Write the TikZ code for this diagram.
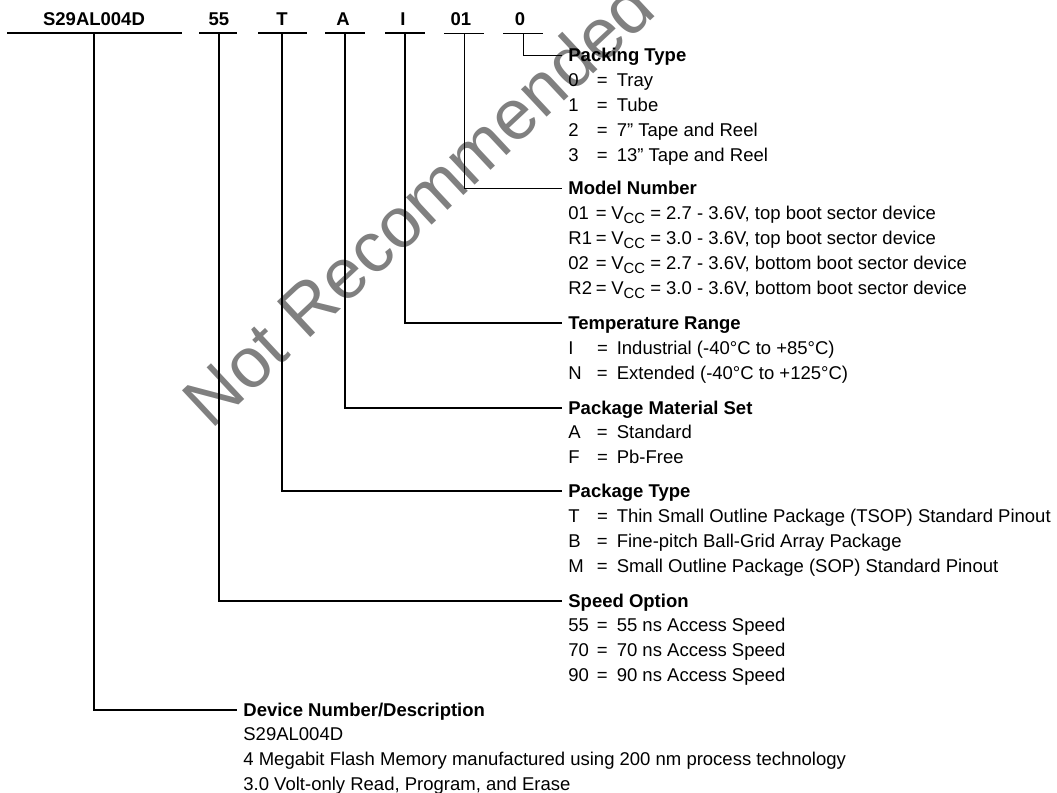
\documentclass[tikz,border=0pt]{standalone}
\usepackage{fontspec}
\setmainfont{Liberation Sans}
\usepackage{xcolor}
\definecolor{wmgray}{RGB}{128,128,128}
% one option line: code, "=" and its meaning
\newcommand{\optrow}[2]{\makebox[14.3pt][l]{#1}=\hspace{4.5pt}#2}
\newcommand{\vccrow}[2]{\makebox[13.8pt][l]{#1}=\hspace{2.3pt}V\raisebox{-2.2pt}{\fontsize{7.4}{8}\selectfont CC} = #2}

\begin{document}
\begin{tikzpicture}[x=0.5pt, y=-0.5pt, font=\fontsize{9.25}{11}\selectfont,
    part/.style={font=\fontsize{9.25}{11}\selectfont\bfseries, anchor=base, inner sep=0pt},
    head/.style={font=\fontsize{9.25}{11}\selectfont\bfseries, anchor=west, inner xsep=3pt, inner ysep=0pt, text height=6.6pt, text depth=0pt},
    entry/.style={anchor=base west, inner sep=0pt},
    wire/.style={line width=1pt},
    fine/.style={line width=0.5pt}]
  \useasboundingbox (0,0) rectangle (1057,793);
  % watermark
  \node[rotate=43, text=wmgray, font=\fontsize{35.5}{40}\selectfont] (wm) at (418,203) {Not Recommended};
  % part number fields
  \node[part] (f-dev) at (94,25) {S29AL004D};
  \node[part] (f-spd) at (219,25) {55};
  \node[part] (f-pkg) at (282,25) {T};
  \node[part] (f-mat) at (343,25) {A};
  \node[part] (f-tmp) at (403,25) {I};
  \node[part] (f-mdl) at (461,25) {01};
  \node[part] (f-pck) at (520,25) {0};
  \draw[wire] (7,33) -- (182,33);
  \draw[wire] (199,33) -- (237,33);
  \draw[wire] (258,33) -- (307,33);
  \draw[wire] (325,33) -- (365,33);
  \draw[wire] (385,33) -- (425,33);
  \draw[fine] (444,33) -- (484,33);
  \draw[fine] (503,33) -- (543,33);
  \coordinate (u-dev) at (94,33);
  \coordinate (u-spd) at (219,33);
  \coordinate (u-pkg) at (282,33);
  \coordinate (u-mat) at (345,33);
  \coordinate (u-tmp) at (405,33);
  \coordinate (u-mdl) at (464,33);
  \coordinate (u-pck) at (523,33);

  % Packing Type
  \node[head] (h-pck) at (562,55) {Packing Type};
  \node[entry] (pck0) at (568,86) {\optrow{0}{Tray}};
  \node[entry] (pck1) at (568,111) {\optrow{1}{Tube}};
  \node[entry] (pck2) at (568,136) {\optrow{2}{7'' Tape and Reel}};
  \node[entry] (pck3) at (568,161) {\optrow{3}{13'' Tape and Reel}};
  % Model Number
  \node[head] (h-mdl) at (562,188) {Model Number};
  \node[entry] (mdl1) at (568,219) {\vccrow{01}{2.7 - 3.6V, top boot sector device}};
  \node[entry] (mdl2) at (568,244) {\vccrow{R1}{3.0 - 3.6V, top boot sector device}};
  \node[entry] (mdl3) at (568,269) {\vccrow{02}{2.7 - 3.6V, bottom boot sector device}};
  \node[entry] (mdl4) at (568,294) {\vccrow{R2}{3.0 - 3.6V, bottom boot sector device}};
  % Temperature Range
  \node[head] (h-tmp) at (562,323) {Temperature Range};
  \node[entry] (tmp1) at (568,354) {\optrow{I}{Industrial (-40°C to +85°C)}};
  \node[entry] (tmp2) at (568,379) {\optrow{N}{Extended (-40°C to +125°C)}};
  % Package Material Set
  \node[head] (h-mat) at (562,407.5) {Package Material Set};
  \node[entry] (mat1) at (568,438.5) {\optrow{A}{Standard}};
  \node[entry] (mat2) at (568,463.5) {\optrow{F}{Pb-Free}};
  % Package Type
  \node[head] (h-pkg) at (562,491) {Package Type};
  \node[entry] (pkg1) at (568,522) {\optrow{T}{Thin Small Outline Package (TSOP) Standard Pinout}};
  \node[entry] (pkg2) at (568,547) {\optrow{B}{Fine-pitch Ball-Grid Array Package}};
  \node[entry] (pkg3) at (568,572) {\optrow{M}{Small Outline Package (SOP) Standard Pinout}};
  % Speed Option
  \node[head] (h-spd) at (562,600.5) {Speed Option};
  \node[entry] (spd1) at (568,631.5) {\optrow{55}{55 ns Access Speed}};
  \node[entry] (spd2) at (568,656.5) {\optrow{70}{70 ns Access Speed}};
  \node[entry] (spd3) at (568,681.5) {\optrow{90}{90 ns Access Speed}};
  % Device Number/Description
  \node[head] (h-dev) at (237,709.5) {Device Number/Description};
  \node[entry] (dev1) at (243,740.5) {S29AL004D};
  \node[entry] (dev2) at (243,765.5) {4 Megabit Flash Memory manufactured using 200 nm process technology};
  \node[entry] (dev3) at (243,790.5) {3.0 Volt-only Read, Program, and Erase};

  % connectors
  \draw[fine] (u-pck) |- (h-pck.west);
  \draw[fine] (u-mdl) |- (h-mdl.west);
  \draw[wire] (u-tmp) |- (h-tmp.west);
  \draw[wire] (u-mat) |- (h-mat.west);
  \draw[wire] (u-pkg) |- (h-pkg.west);
  \draw[wire] (u-spd) |- (h-spd.west);
  \draw[wire] (u-dev) |- (h-dev.west);
\end{tikzpicture}
\end{document}
